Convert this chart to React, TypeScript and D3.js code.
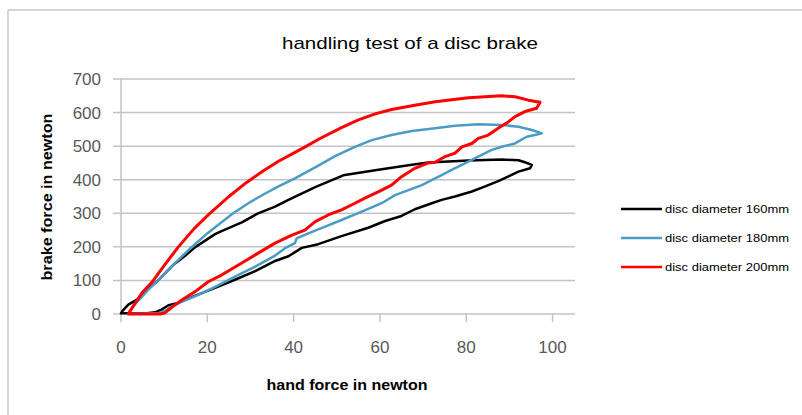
import React from "react";
import * as d3 from "d3";

const xTicks = [0, 20, 40, 60, 80, 100];
const yTicks = [0, 100, 200, 300, 400, 500, 600, 700];
const seriesNames = ["disc diameter 160mm", "disc diameter 180mm", "disc diameter 200mm"];
const seriesColors = ["#000000", "#4a9cc6", "#ff0000"];

const disc160: [number, number][] = [
  [0, 2], [0.4, 10], [1.7, 28], [4, 45], [6.3, 75], [8.6, 100], [12, 145], [14.5, 170], [17.3, 200], [21.8, 238],
  [23.3, 247], [28, 273], [31.5, 298], [35.7, 320], [38.8, 340], [45, 378], [51.5, 413], [58.9, 428],
  [66.6, 443], [71.2, 451], [80.5, 457], [88.2, 460], [92.1, 458], [93.6, 452], [95.2, 444], [94.8, 434],
  [92.1, 424], [89.8, 410], [87.4, 396], [84.4, 380], [81.3, 365], [77.4, 350], [74.3, 340], [72, 330],
  [68.1, 312], [65, 292], [61.2, 277], [57.3, 257], [51.1, 232], [45.7, 208], [41.9, 197], [38.8, 172],
  [35.7, 158], [31.1, 128], [26.4, 102], [21.8, 78], [17.1, 54], [13.3, 33], [11, 26], [9.4, 13],
  [7.9, 5], [6, 2], [2, 2], [0, 2],
];

const disc180: [number, number][] = [
  [1.7, 0], [2.2, 12], [4, 40], [6.3, 72], [8.6, 100], [12, 145], [16, 195], [20, 240], [23, 270],
  [26, 300], [29.5, 330], [33, 356], [36.5, 380], [40.3, 404], [45, 437], [49.6, 470], [54.2, 498],
  [58.1, 518], [62.7, 533], [67.4, 545], [72.8, 553], [77.4, 561], [82.8, 565], [88.2, 563], [92.1, 558],
  [95.2, 548], [97.5, 538], [95.9, 533], [94, 528], [91.3, 508], [88.2, 498], [85.9, 489], [83.6, 474],
  [81.3, 459], [79, 444], [76.6, 429], [74.3, 414], [72.8, 404], [69.7, 384], [66.6, 369], [63.5, 354],
  [60.4, 330], [55.8, 305], [51.1, 280], [47.3, 260], [43.4, 240], [40.7, 225], [40.3, 211], [38, 196],
  [35.7, 174], [31.1, 141], [26.4, 111], [21.8, 81], [17.9, 57], [14.1, 37], [11.7, 22], [10.2, 9],
  [8.5, 2], [2, 1],
];

const disc200: [number, number][] = [
  [1.7, 0], [2.9, 25], [5, 65], [7.5, 100], [10.2, 148], [13.3, 200], [17, 255], [20.6, 300],
  [25, 350], [29.1, 392], [33, 427], [36.5, 455], [40, 479], [43, 500], [46, 522], [51.1, 555], [55, 578],
  [58.9, 596], [62.7, 609], [68.1, 622], [72.8, 632], [80.5, 644], [88.2, 650], [91.3, 647], [94.4, 637], [97.1, 631],
  [96.3, 613], [93.6, 603], [91.3, 588], [89.8, 573], [87.4, 553], [85.1, 533], [82.8, 523], [81.3, 508],
  [79, 498], [77.4, 479], [75.1, 469], [72.8, 452], [71.2, 450], [68.1, 434], [65, 409], [62.7, 384],
  [59.6, 364], [56.5, 345], [54.2, 330], [51.1, 310], [48, 295], [45, 275], [42.6, 250], [39.6, 235],
  [35.7, 211], [31.1, 176], [27.2, 146], [23.3, 116], [20.2, 96], [17.1, 66], [14.1, 42], [12.5, 27],
  [11, 12], [10.2, 3], [9, 0], [1.7, 0],
];

const seriesData = [disc160, disc180, disc200];

export default function App() {
  const x = d3.scaleLinear().domain([0, 105.2]).range([121, 575]);
  const y = d3.scaleLinear().domain([0, 700]).range([314, 79]);
  const line = d3
    .line<[number, number]>()
    .x((d) => x(d[0]))
    .y((d) => y(d[1]));

  const font = "'Liberation Sans', Arial, sans-serif";
  const grid = "#c3c3c3";

  return (
    <svg
      width={802}
      height={415}
      style={{ position: "absolute", left: 0, top: 0, background: "#fff" }}
    >
      <rect x={0} y={0} width={802} height={415} fill="#fff" />
      <line x1={8} y1={10} x2={802} y2={10} stroke="#c8c8c8" strokeWidth={1.5} />
      <line x1={8} y1={10} x2={8} y2={415} stroke="#c8c8c8" strokeWidth={1.5} />

      <text x={410} y={49} textAnchor="middle" fontFamily={font} fontSize={17} fill="#000" textLength={256} lengthAdjust="spacingAndGlyphs">
        handling test of a disc brake
      </text>

      {yTicks.map((t) => (
        <g key={"y" + t}>
          <line x1={113} x2={575} y1={y(t)} y2={y(t)} stroke={grid} strokeWidth={1.5} />
          <text x={101} y={y(t) + 6} textAnchor="end" fontFamily={font} fontSize={17} fill="#595959">
            {t}
          </text>
        </g>
      ))}
      <line x1={x(0)} x2={x(0)} y1={y(700)} y2={y(0)} stroke={grid} strokeWidth={1.5} />
      {xTicks.map((t) => (
        <g key={"x" + t}>
          <line x1={x(t)} x2={x(t)} y1={y(0)} y2={y(0) + 8} stroke={grid} strokeWidth={1.5} />
          <text x={x(t)} y={353} textAnchor="middle" fontFamily={font} fontSize={17} fill="#595959">
            {t}
          </text>
        </g>
      ))}

      <text
        transform={`translate(52,197) rotate(-90)`}
        textAnchor="middle"
        fontFamily={font}
        fontSize={14}
        fontWeight="bold"
        fill="#000"
        textLength={167}
        lengthAdjust="spacingAndGlyphs"
      >
        brake force in newton
      </text>
      <text x={347} y={390} textAnchor="middle" fontFamily={font} fontSize={14} fontWeight="bold" fill="#000" textLength={161} lengthAdjust="spacingAndGlyphs">
        hand force in newton
      </text>

      {seriesData.map((s, i) => (
        <path
          key={"s" + i}
          d={line(s) || ""}
          fill="none"
          stroke={seriesColors[i]}
          strokeWidth={i === 2 ? 3 : 2.5}
          strokeLinejoin="round"
          strokeLinecap="round"
        />
      ))}

      {seriesNames.map((n, i) => (
        <g key={"l" + i}>
          <line x1={621} x2={662} y1={209 + i * 29} y2={209 + i * 29} stroke={seriesColors[i]} strokeWidth={2.5} />
          <text x={665} y={213 + i * 29} fontFamily={font} fontSize={11} fill="#000" textLength={124} lengthAdjust="spacingAndGlyphs">
            {n}
          </text>
        </g>
      ))}
    </svg>
  );
}
